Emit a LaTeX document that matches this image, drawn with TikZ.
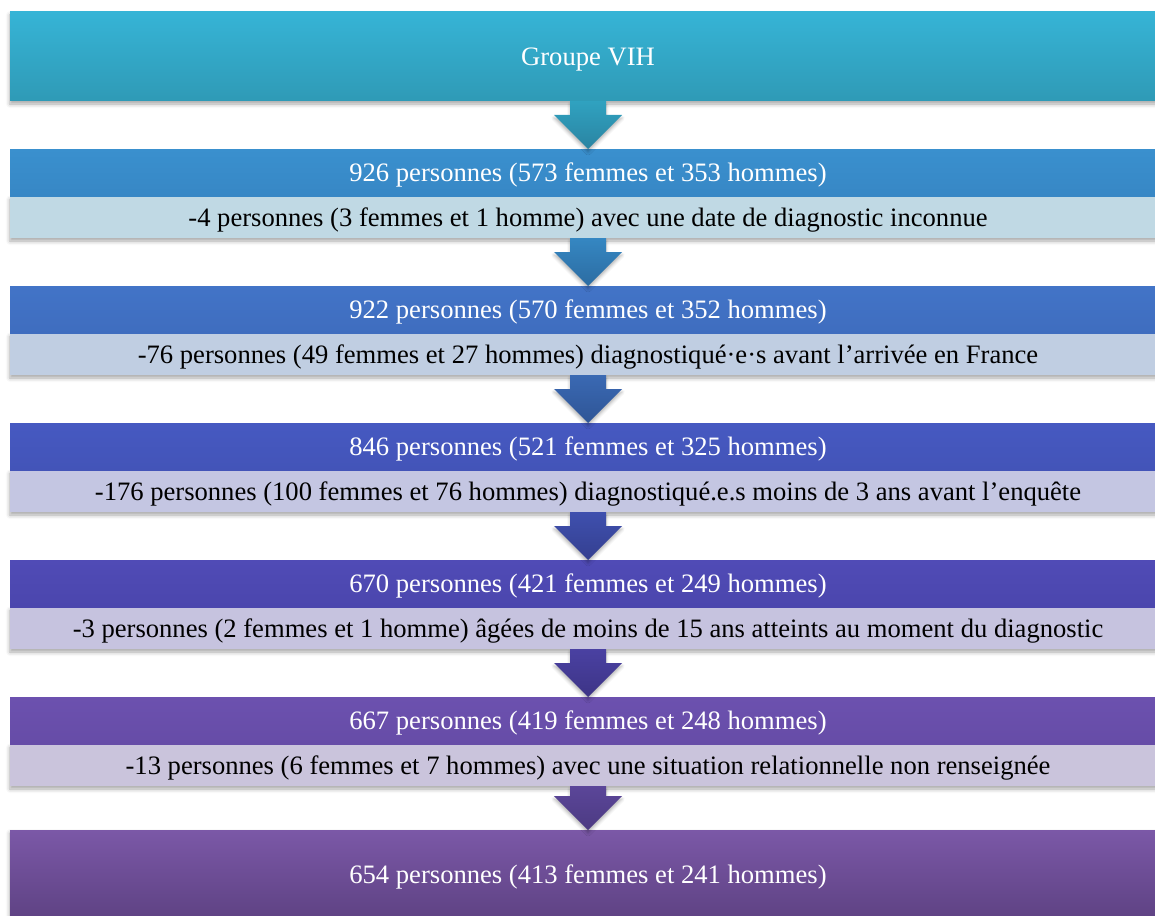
\documentclass[tikz,border=0pt]{standalone}
\usepackage{fontspec}
\setmainfont{Liberation Serif}
\usetikzlibrary{calc,shadows.blur}
\definecolor{gT}{HTML}{36B4D6}\definecolor{gB}{HTML}{2F9AB6}
\definecolor{dA}{HTML}{3A90CE}\definecolor{dAb}{HTML}{3787C5}\definecolor{lA}{HTML}{C0D9E4}
\definecolor{dB}{HTML}{4274C7}\definecolor{dBb}{HTML}{3F6DBF}\definecolor{lB}{HTML}{C0CEE2}
\definecolor{dC}{HTML}{4659C1}\definecolor{dCb}{HTML}{4354B8}\definecolor{lC}{HTML}{C4C6E2}
\definecolor{dD}{HTML}{504BB6}\definecolor{dDb}{HTML}{4B46AD}\definecolor{lD}{HTML}{C6C3DF}
\definecolor{dE}{HTML}{6C51AF}\definecolor{dEb}{HTML}{664CA7}\definecolor{lE}{HTML}{CAC4DC}
\definecolor{fT}{HTML}{7B58A7}\definecolor{fB}{HTML}{5E4283}
\definecolor{a1t}{HTML}{30A2C0}\definecolor{a1b}{HTML}{2A84A2}
\definecolor{a2t}{HTML}{3587C2}\definecolor{a2b}{HTML}{2C6CA2}
\definecolor{a3t}{HTML}{3A69B3}\definecolor{a3b}{HTML}{2F5596}
\definecolor{a4t}{HTML}{3F50AE}\definecolor{a4b}{HTML}{343F90}
\definecolor{a5t}{HTML}{4A41A2}\definecolor{a5b}{HTML}{3D3486}
\definecolor{a6t}{HTML}{5B4699}\definecolor{a6b}{HTML}{4C3A82}
% arrow from node #1 to node #2; shaft centred at x=588 (17pt left of node centre)
\newcommand\blockarrow[4]{%
  \path[top color=#3, bottom color=#4,
    blur shadow={shadow xshift=0pt, shadow yshift=-3pt, shadow blur radius=3pt, shadow opacity=30}]
    ($(#1.south)+(-35,0)$) -- ($(#1.south)+(1,0)$) -- ($(#2.north)+(1,34)$)
    -- ($(#2.north)+(17,34)$) -- ($(#2.north)+(-17,0)$) -- ($(#2.north)+(-51,34)$)
    -- ($(#2.north)+(-35,34)$) -- cycle;}
\begin{document}
\begin{tikzpicture}[x=1pt,y=1pt,
  box/.style={minimum width=1190pt, inner sep=0pt, outer sep=0pt,
    text height=22pt, text depth=4.4pt,
    font=\fontsize{26.6}{32}\selectfont},
  shad/.style={blur shadow={shadow xshift=0pt, shadow yshift=-3pt, shadow blur radius=4pt, shadow opacity=35}},
  dark/.style={box, minimum height=47.5pt, text=white},
  light/.style={box, minimum height=41.5pt, text=black, shad}]
\useasboundingbox (0,0) rectangle (1155,-915);
\node[box, shad, minimum height=89pt, text=white, top color=gT, bottom color=gB] (g) at (605,-56.5) {\kern-34pt Groupe VIH};
% band 1
\node[light, fill=lA] (l1) at (605,-217.25) {\kern-34pt -4 personnes (3 femmes et 1 homme) avec une date de diagnostic inconnue};
\node[dark, top color=dA, bottom color=dAb] (d1) at (605,-172.75) {\kern-34pt 926 personnes (573 femmes et 353 hommes)};
% band 2
\node[light, fill=lB] (l2) at (605,-354.25) {\kern-34pt -76 personnes (49 femmes et 27 hommes) diagnostiqué·e·s avant l’arrivée en France};
\node[dark, top color=dB, bottom color=dBb] (d2) at (605,-309.75) {\kern-34pt 922 personnes (570 femmes et 352 hommes)};
% band 3
\node[light, fill=lC] (l3) at (605,-491.25) {\kern-34pt -176 personnes (100 femmes et 76 hommes) diagnostiqué.e.s moins de 3 ans avant l’enquête};
\node[dark, top color=dC, bottom color=dCb] (d3) at (605,-446.75) {\kern-34pt 846 personnes (521 femmes et 325 hommes)};
% band 4
\node[light, fill=lD] (l4) at (605,-628.25) {\kern-34pt -3 personnes (2 femmes et 1 homme) âgées de moins de 15 ans atteints au moment du diagnostic};
\node[dark, top color=dD, bottom color=dDb] (d4) at (605,-583.75) {\kern-34pt 670 personnes (421 femmes et 249 hommes)};
% band 5
\node[light, fill=lE] (l5) at (605,-765.25) {\kern-34pt -13 personnes (6 femmes et 7 hommes) avec une situation relationnelle non renseignée};
\node[dark, top color=dE, bottom color=dEb] (d5) at (605,-720.75) {\kern-34pt 667 personnes (419 femmes et 248 hommes)};
% final
\node[box, shad, minimum height=90pt, text=white, top color=fT, bottom color=fB] (f) at (605,-875) {\kern-34pt 654 personnes (413 femmes et 241 hommes)};
% arrows
\blockarrow{g}{d1}{a1t}{a1b}
\blockarrow{l1}{d2}{a2t}{a2b}
\blockarrow{l2}{d3}{a3t}{a3b}
\blockarrow{l3}{d4}{a4t}{a4b}
\blockarrow{l4}{d5}{a5t}{a5b}
\blockarrow{l5}{f}{a6t}{a6b}
\end{tikzpicture}
\end{document}
